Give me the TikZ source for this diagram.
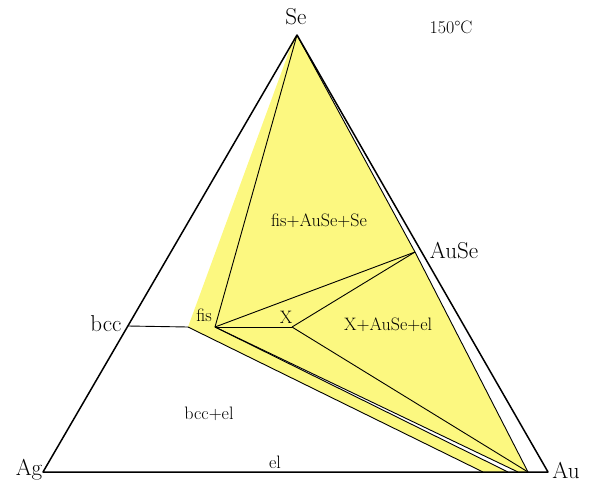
\documentclass[tikz,border=0pt]{standalone}
\usepackage{fontspec}
\begin{document}
\begin{tikzpicture}[x=1pt,y=-1pt,line join=round,
  lab/.style={font=\fontsize{23}{23}\selectfont,inner sep=0pt},
  inl/.style={font=\fontsize{18}{18}\selectfont,inner sep=0pt},
  thin line/.style={draw=black,line width=0.9pt},
  frame/.style={draw=black,line width=1.5pt}]
\definecolor{yel}{RGB}{252,248,128}
\useasboundingbox (0,0) rectangle (589,483);
\coordinate (Ag) at (43,472);
\coordinate (Au) at (548,472);
\coordinate (Se) at (297,35);
\coordinate (bccp) at (128,326);
\coordinate (B) at (188,327);
\coordinate (F) at (215,327);
\coordinate (X) at (292,327);
\coordinate (AuSe) at (415,252);
\coordinate (E1) at (483,472);
\coordinate (E2) at (518,472);
\coordinate (E3) at (528,472);
\coordinate (W1) at (508,472);
\fill[yel] (B) -- (294,38) -- (Se) -- (AuSe) -- (E3) -- (E1) -- cycle;
\fill[white] (F) -- (W1) -- (E2) -- cycle;
\draw[thin line] (bccp) -- (B);
\draw[thin line] (B) -- (E1);
\draw[thin line] (F) -- (Se);
\draw[thin line] (F) -- (X);
\draw[thin line] (F) -- (AuSe);
\draw[thin line] (X) -- (AuSe);
\draw[thin line] (X) -- (E3);
\draw[thin line] (Se) -- (AuSe) -- (E3);
\draw[thin line] (F) -- (W1);
\draw[thin line] (F) -- (E2);
\draw[frame] (Ag) -- (Au) -- (Se) -- cycle;
\node[lab] (lSe) at (296,17) {Se};
\node[lab] (lAg) at (29,470) {Ag};
\node[lab] (lAu) at (566,470) {Au};
\node[lab] (lAuSe) at (454,251) {AuSe};
\node[lab] (lbcc) at (106,324) {bcc};
\node[inl] (lT) at (451,27) {150°C};
\node[inl] (lfis) at (204,315) {fis};
\node[inl] (lX) at (286,317) {X};
\node[inl] (l1) at (319,221) {fis+AuSe+Se};
\node[inl,anchor=west] (l2) at (344,325) {X+AuSe+el};
\node[inl] (l3) at (209,414) {bcc+el};
\node[inl] (l4) at (275,462) {el};
\end{tikzpicture}
\end{document}
